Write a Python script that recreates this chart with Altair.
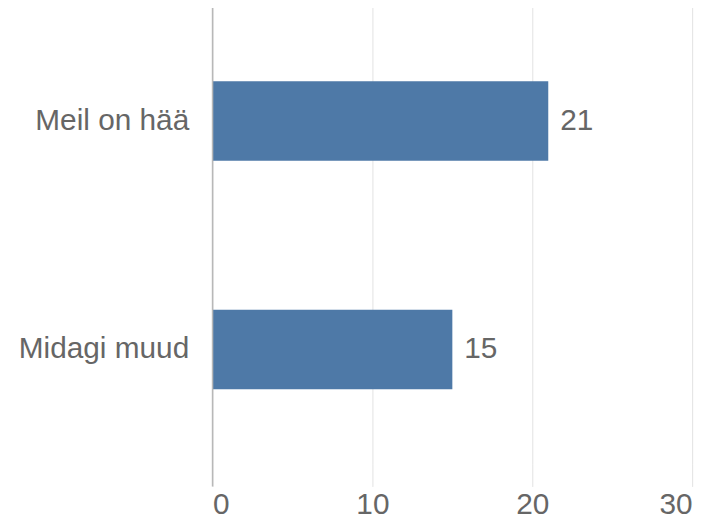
import altair as alt
import pandas as pd

categories = ["Meil on hää", "Midagi muud"]
values = [21, 15]
x_ticks = [0, 10, 20, 30]

data = pd.DataFrame({"category": categories, "value": values})

FONT = "Liberation Sans"
TEXT_COLOR = "#666666"
GRID = "#e2e2e2"
FS = 30

x_enc = alt.X(
    "value:Q",
    scale=alt.Scale(domain=[0, 30], nice=False),
    axis=alt.Axis(
        values=x_ticks, title=None, grid=True, gridColor=GRID, domain=False,
        tickColor=GRID, tickSize=23, labelFontSize=FS, labelColor=TEXT_COLOR,
        labelFont=FONT, labelPadding=3,
    ),
)
y_enc = alt.Y(
    "category:N", sort=categories,
    scale=alt.Scale(paddingInner=0.652, paddingOuter=0.326),
    axis=alt.Axis(
        title=None, domain=False, ticks=False, grid=False, labelFontSize=FS,
        labelPadding=24, labelColor=TEXT_COLOR, labelFont=FONT,
    ),
)

base = alt.Chart(data)
bars = base.mark_bar(color="#4e79a7").encode(x=x_enc, y=y_enc)
labels = base.mark_text(
    align="left", baseline="middle", dx=12, fontSize=FS, font=FONT, color=TEXT_COLOR
).encode(x="value:Q", y=alt.Y("category:N", sort=categories), text="value:Q")
zero = alt.Chart(pd.DataFrame({"z": [0]})).mark_rule(color="#b8b8b8", strokeWidth=1.5).encode(
    x="z:Q", y=alt.value(0), y2=alt.value(483)
)

chart = (
    alt.layer(bars, zero, labels)
    .properties(
        width=483, height=460,
        autosize=alt.AutoSizeParams(type="none"),
        padding={"left": 206, "top": -3, "right": 20, "bottom": 55},
    )
    .configure_view(stroke=None)
)

chart.save("out.html", embed_options={"renderer": "svg", "actions": False})
